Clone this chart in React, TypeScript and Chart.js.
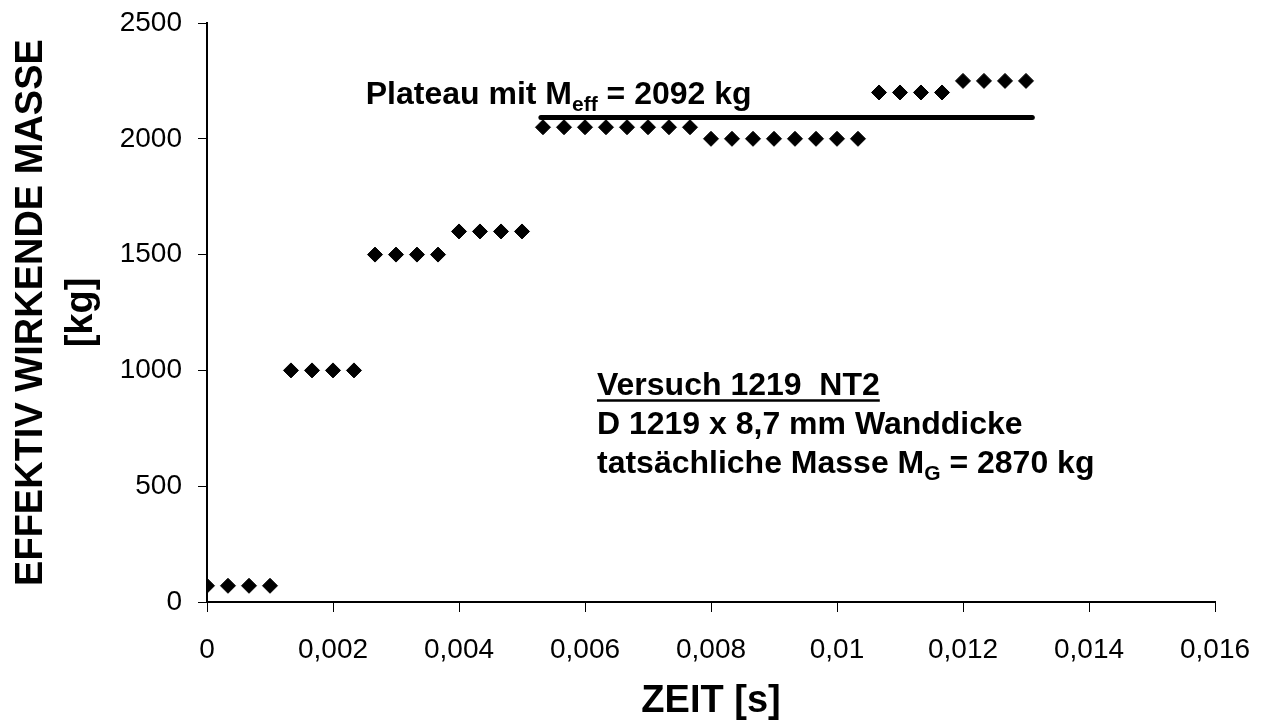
import React, { useEffect, useRef } from 'react';
import { Chart, registerables } from 'chart.js';

Chart.register(...registerables);

// ---- Data ----
const timeValues = [
  0, 0.000333, 0.000667, 0.001,
  0.001333, 0.001667, 0.002, 0.002333,
  0.002667, 0.003, 0.003333, 0.003667,
  0.004, 0.004333, 0.004667, 0.005,
  0.005333, 0.005667, 0.006, 0.006333, 0.006667, 0.007, 0.007333, 0.007667,
  0.008, 0.008333, 0.008667, 0.009, 0.009333, 0.009667, 0.01, 0.010333,
  0.010667, 0.011, 0.011333, 0.011667,
  0.012, 0.012333, 0.012667, 0.013,
];
const massValues = [
  70, 70, 70, 70,
  1000, 1000, 1000, 1000,
  1500, 1500, 1500, 1500,
  1600, 1600, 1600, 1600,
  2050, 2050, 2050, 2050, 2050, 2050, 2050, 2050,
  2000, 2000, 2000, 2000, 2000, 2000, 2000, 2000,
  2200, 2200, 2200, 2200,
  2250, 2250, 2250, 2250,
];
const plateauTimes = [0.0053, 0.0131];
const plateauMass = [2092, 2092];

const xMin = 0;
const xMax = 0.016;
const xStep = 0.002;
const yMin = 0;
const yMax = 2500;
const yStep = 500;

const xTitle = 'ZEIT [s]';
const yTitle = ['EFFEKTIV WIRKENDE MASSE', '[kg]'];

// annotation anchors in data units
const plateauLabelAnchor = [0.00252, 2150];
const infoLabelAnchorX = 0.00619;
const infoLineValues = [892, 724, 559];

const FONT = '"Liberation Sans", Arial, Helvetica, sans-serif';

type Run = { text: string; sub?: boolean };

function drawRuns(ctx: CanvasRenderingContext2D, x: number, y: number, runs: Run[], size: number) {
  let cx = x;
  for (const r of runs) {
    const s = r.sub ? Math.round(size * 0.65) : size;
    ctx.font = `bold ${s}px ${FONT}`;
    ctx.fillText(r.text, cx, r.sub ? y + size * 0.22 : y);
    cx += ctx.measureText(r.text).width;
  }
  return cx - x;
}

const annotationPlugin = {
  id: 'annotationTexts',
  afterDatasetsDraw(chart: any) {
    const { ctx, scales } = chart;
    const x = scales.x;
    const y = scales.y;
    const size = 32;
    ctx.save();
    ctx.fillStyle = '#000';
    ctx.strokeStyle = '#000';
    ctx.textBaseline = 'alphabetic';
    ctx.textAlign = 'left';

    drawRuns(ctx, x.getPixelForValue(plateauLabelAnchor[0]), y.getPixelForValue(plateauLabelAnchor[1]), [
      { text: 'Plateau mit M' },
      { text: 'eff', sub: true },
      { text: ' = 2092 kg' },
    ], size);

    const lx = x.getPixelForValue(infoLabelAnchorX);
    const b0 = y.getPixelForValue(infoLineValues[0]);
    const w0 = drawRuns(ctx, lx, b0, [{ text: 'Versuch 1219  NT2' }], size);
    ctx.lineWidth = 2.5;
    ctx.beginPath();
    ctx.moveTo(lx, b0 + 5);
    ctx.lineTo(lx + w0, b0 + 5);
    ctx.stroke();

    drawRuns(ctx, lx, y.getPixelForValue(infoLineValues[1]), [{ text: 'D 1219 x 8,7 mm Wanddicke' }], size);
    drawRuns(ctx, lx, y.getPixelForValue(infoLineValues[2]), [
      { text: 'tatsächliche Masse M' },
      { text: 'G', sub: true },
      { text: ' = 2870 kg' },
    ], size);
    ctx.restore();
  },
};

export default function App() {
  const canvasRef = useRef<HTMLCanvasElement | null>(null);

  useEffect(() => {
    const canvas = canvasRef.current;
    if (!canvas) return;
    const points = timeValues.map((t, i) => ({ x: t, y: massValues[i] }));
    const plateau = plateauTimes.map((t, i) => ({ x: t, y: plateauMass[i] }));

    const chart = new Chart(canvas, {
      type: 'scatter',
      data: {
        datasets: [
          {
            type: 'scatter',
            label: 'Masse',
            data: points,
            pointStyle: 'rectRot',
            pointRadius: 7.5,
            pointBorderWidth: 1,
            backgroundColor: '#000',
            borderColor: '#000',
            order: 2,
          },
          {
            type: 'line',
            label: 'Plateau',
            data: plateau,
            borderColor: '#000',
            borderWidth: 5,
            borderCapStyle: 'round',
            pointRadius: 0,
            fill: false,
            showLine: true,
            order: 1,
          } as any,
        ],
      },
      options: {
        responsive: false,
        animation: false,
        events: [],
        layout: { padding: { left: 0, top: 23, right: 55, bottom: 0 } },
        plugins: {
          legend: { display: false },
          tooltip: { enabled: false },
          title: { display: false },
        },
        scales: {
          x: {
            type: 'linear',
            min: xMin,
            max: xMax,
            ticks: {
              stepSize: xStep,
              autoSkip: false,
              maxRotation: 0,
              color: '#000',
              padding: 21,
              font: { family: FONT, size: 28 },
              callback: (v: any) => String(Number(Number(v).toFixed(4))).replace('.', ','),
            },
            grid: { drawOnChartArea: false, drawTicks: true, tickLength: 10, color: '#000', lineWidth: 1 },
            border: { display: true, color: '#000', width: 2 },
            title: {
              display: true,
              text: xTitle,
              color: '#000',
              font: { family: FONT, size: 38, weight: 'bold' },
              padding: { top: 0, bottom: 4 },
            },
            afterFit: (scale: any) => {
              scale.height = 126;
              scale.paddingLeft = 0;
              scale.paddingRight = 0;
            },
          },
          y: {
            type: 'linear',
            min: yMin,
            max: yMax,
            ticks: {
              stepSize: yStep,
              color: '#000',
              padding: 16,
              font: { family: FONT, size: 28 },
              callback: (v: any) => String(v),
            },
            grid: { drawOnChartArea: false, drawTicks: true, tickLength: 9, color: '#000', lineWidth: 1 },
            border: { display: true, color: '#000', width: 2 },
            title: {
              display: true,
              text: yTitle,
              color: '#000',
              font: { family: FONT, size: 38, weight: 'bold', lineHeight: 1.32 },
              padding: { top: 6, bottom: 0 },
            },
            afterFit: (scale: any) => {
              scale.width = 207;
              scale.paddingTop = 0;
              scale.paddingBottom = 0;
            },
          },
        },
      } as any,
      plugins: [annotationPlugin],
    });
    return () => chart.destroy();
  }, []);

  return (
    <div style={{ position: 'absolute', left: 0, top: 0, width: 1270, height: 728, background: '#fff' }}>
      <canvas ref={canvasRef} width={1270} height={728} style={{ display: 'block' }} />
    </div>
  );
}
